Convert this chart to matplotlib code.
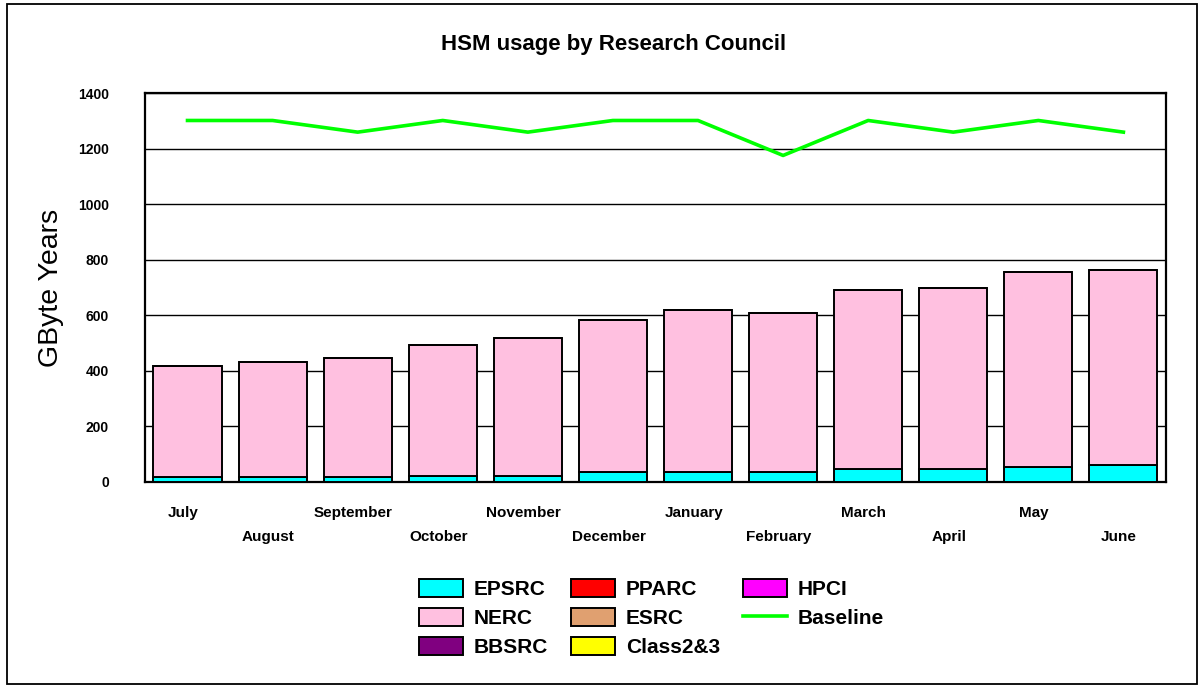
import numpy as np
import matplotlib.pyplot as plt
from matplotlib.patches import Rectangle

plt.rcParams['font.family'] = ['Liberation Sans', 'DejaVu Sans']

months = ['July', 'August', 'September', 'October', 'November', 'December',
          'January', 'February', 'March', 'April', 'May', 'June']

# GByte years per council, per month
epsrc = [16, 16, 16, 22, 22, 36, 36, 36, 45, 45, 52, 59]
totals = [417, 433, 447, 491, 518, 584, 620, 607, 692, 699, 757, 764]
nerc = [t - e for t, e in zip(totals, epsrc)]
bbsrc = [0] * 12
pparc = [0] * 12
esrc = [0] * 12
class23 = [0] * 12
hpci = [0] * 12
baseline = [1302, 1302, 1260, 1302, 1260, 1302, 1302, 1176, 1302, 1260, 1302, 1260]

series = [
    ('EPSRC', epsrc, '#00FFFF'),
    ('NERC', nerc, '#FFC0E0'),
    ('BBSRC', bbsrc, '#800080'),
    ('PPARC', pparc, '#FF0000'),
    ('ESRC', esrc, '#E0A070'),
    ('Class2&3', class23, '#FFFF00'),
    ('HPCI', hpci, '#FF00FF'),
]

fig = plt.figure(figsize=(12.04, 6.87), dpi=100)
ax = fig.add_axes([0.1204, 0.2988, 0.848, 0.5654])

x = np.arange(len(months))
bottom = np.zeros(len(months))
handles = []
for name, vals, col in series:
    b = ax.bar(x, vals, 0.8, bottom=bottom, color=col, edgecolor='black',
               linewidth=1.4, label=name, zorder=3)
    bottom += np.array(vals)
    handles.append(b)

line, = ax.plot(x, baseline, color='#00FF00', linewidth=2.6, label='Baseline',
                zorder=4)
handles.append(line)

ax.set_xlim(-0.5, len(months) - 0.5)
ax.set_ylim(0, 1400)
ax.set_yticks(range(0, 1401, 200))
ax.yaxis.grid(True, color='black', linewidth=1.0, zorder=0)
ax.set_axisbelow(True)
ax.tick_params(axis='y', length=0, pad=26, labelsize=10)
for lbl in ax.get_yticklabels():
    lbl.set_fontweight('bold')

# staggered month labels
ax.set_xticks([])
for i, m in enumerate(months):
    ax.text(i - 0.05, -0.08 if i % 2 == 0 else -0.142, m,
            transform=ax.get_xaxis_transform(), ha='center', va='center',
            fontsize=11, fontweight='bold')

for s in ax.spines.values():
    s.set_linewidth(1.6)

ax.set_ylabel('GByte Years', fontsize=20.5, labelpad=10)

fig.text(0.51, 0.935, 'HSM usage by Research Council', ha='center',
         va='center', fontsize=16, fontweight='bold')

leg = fig.legend(handles, [h.get_label() for h in handles],
                 loc='center', bbox_to_anchor=(0.541, 0.1), ncol=3,
                 frameon=False, prop={'weight': 'bold', 'size': 15},
                 handlelength=2.1, handleheight=0.96, handletextpad=0.53,
                 columnspacing=1.1, labelspacing=0.42)

fig.patches.append(Rectangle((0.006, 0.004), 0.988, 0.99, transform=fig.transFigure,
                             fill=False, edgecolor='black', linewidth=1.3))

fig.savefig('out.png', dpi=100)
